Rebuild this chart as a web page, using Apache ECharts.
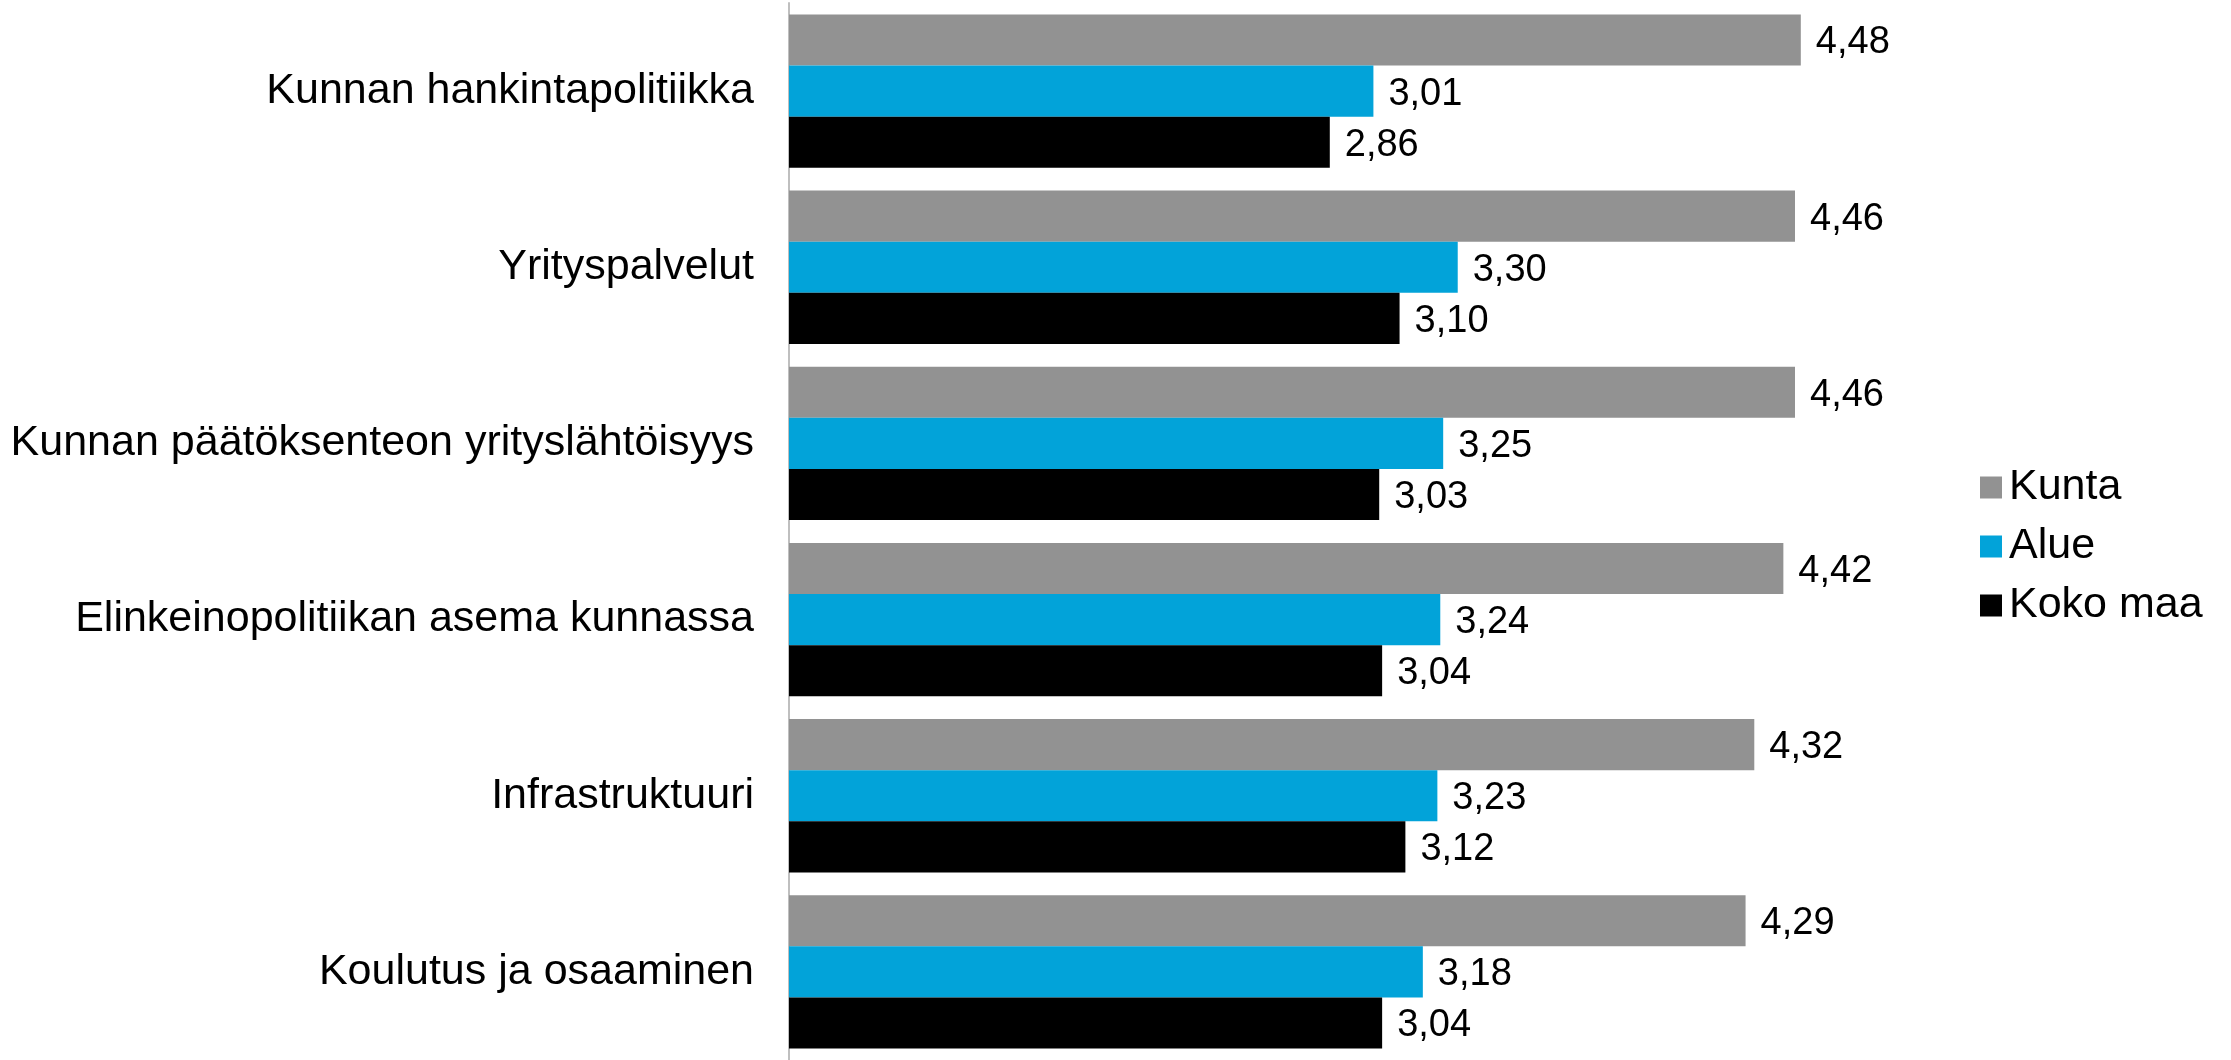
<!DOCTYPE html>
<html>
<head>
<meta charset="utf-8">
<script src="https://cdn.jsdelivr.net/npm/echarts@6/dist/echarts.min.js"></script>
<style>
html,body{margin:0;padding:0;background:#fff;}
#chart{width:2231px;height:1060px;}
</style>
</head>
<body>
<div id="chart"></div>
<script>
const categories = [
  "Kunnan hankintapolitiikka",
  "Yrityspalvelut",
  "Kunnan päätöksenteon yrityslähtöisyys",
  "Elinkeinopolitiikan asema kunnassa",
  "Infrastruktuuri",
  "Koulutus ja osaaminen"
];
const seriesNames = ["Kunta", "Alue", "Koko maa"];
const kunta = [4.48, 4.46, 4.46, 4.42, 4.32, 4.29];
const alue = [3.01, 3.30, 3.25, 3.24, 3.23, 3.18];
const kokoMaa = [2.86, 3.10, 3.03, 3.04, 3.12, 3.04];
const colors = ["#929292", "#02A3D9", "#000000"];

const FONT = "'Liberation Sans', Arial, sans-serif";
const chart = echarts.init(document.getElementById('chart'), null, {renderer: 'canvas'});

function mkSeries(name, data, color) {
  return {
    name: name,
    type: 'bar',
    data: data,
    barGap: '0%',
    barCategoryGap: '13%',
    itemStyle: {color: color},
    label: {
      show: true,
      position: 'right',
      distance: 15,
      fontFamily: FONT,
      fontSize: 38,
      color: '#000',
      offset: [0, 3],
      formatter: p => p.value.toFixed(2).replace('.', ',')
    },
    emphasis: {disabled: true}
  };
}

chart.setOption({
  animation: false,
  backgroundColor: '#fff',
  grid: {left: 789, width: 1163, top: 3, height: 1064, containLabel: false},
  legend: {
    orient: 'vertical',
    left: 1980,
    top: 466,
    padding: 0,
    itemWidth: 22,
    itemHeight: 22,
    itemGap: 16,
    icon: 'rect',
    data: seriesNames,
    textStyle: {fontFamily: FONT, fontSize: 43, lineHeight: 43, color: '#000', padding: [0, 0, 0, 2]}
  },
  xAxis: {
    type: 'value',
    min: 1,
    max: 5,
    interval: 1,
    axisLine: {show: false},
    axisTick: {show: false},
    axisLabel: {show: false},
    splitLine: {show: false}
  },
  yAxis: {
    type: 'category',
    inverse: true,
    data: categories,
    axisLine: {show: true, lineStyle: {color: '#bfbfbf', width: 2}},
    axisTick: {show: false},
    axisLabel: {fontFamily: FONT, fontSize: 43, color: '#000', margin: 35}
  },
  series: [
    mkSeries(seriesNames[0], kunta, colors[0]),
    mkSeries(seriesNames[1], alue, colors[1]),
    mkSeries(seriesNames[2], kokoMaa, colors[2])
  ]
});
</script>
</body>
</html>
